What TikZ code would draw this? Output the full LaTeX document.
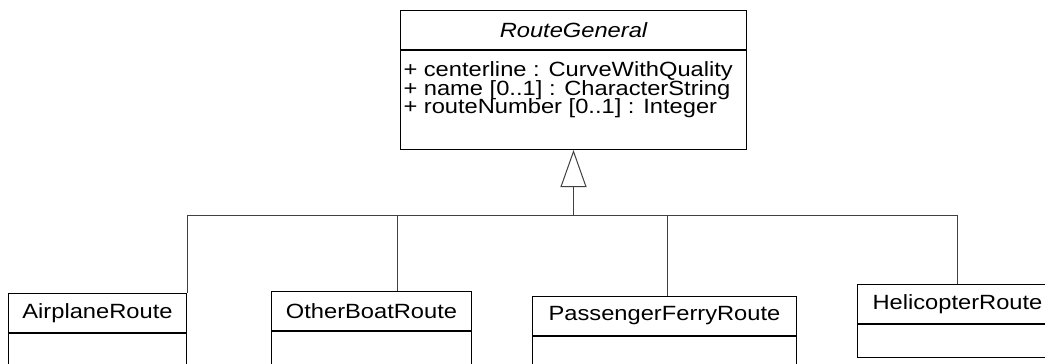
\documentclass[tikz,border=0pt]{standalone}
\usepackage{fontspec}
\setmainfont{Liberation Sans}
\newfontfamily\umlfont[FakeStretch=1.15]{Liberation Sans}
\usetikzlibrary{positioning,calc,arrows.meta}

\begin{document}
\begin{tikzpicture}[
    x=0.5pt, y=-0.5pt,
    line width=0.5pt,
    classname/.style={
        rectangle, draw, inner sep=0pt,
        minimum height=19.5pt,
        font=\umlfont\fontsize{10.3}{12}\selectfont
    },
    classbody/.style={
        rectangle, draw, inner sep=0pt
    },
    attr/.style={
        inner sep=0pt, anchor=base west,
        font=\umlfont\fontsize{10.3}{12}\selectfont
    },
    tree/.style={draw=black!75},
    generalization/.style={-{Triangle[open, length=18.5pt, width=13pt]}, draw=black!75}
]
\useasboundingbox (0,0) rectangle (1045,364);

% Superclass
\node[classname, minimum width=173pt, anchor=north west, font=\umlfont\fontsize{10.3}{12}\selectfont\itshape] (general) at (400,10) {RouteGeneral};
\node[classbody, minimum width=173pt, minimum height=49.5pt, below=0pt of general] (generalbody) {};
\node[attr] (centerline) at ($(generalbody.north west)+(3,26.5)$) {+ centerline : CurveWithQuality};
\node[attr] (name) at ($(centerline.base west)+(0,18.5)$) {+ name [0..1] : CharacterString};
\node[attr] (number) at ($(name.base west)+(0,18.5)$) {+ routeNumber [0..1] : Integer};

% Subclasses
\node[classname, minimum width=89pt, anchor=north west] (airplane) at (8,293) {AirplaneRoute};
\node[classbody, minimum width=89pt, minimum height=16.5pt, below=0pt of airplane] (airplanebody) {};

\node[classname, minimum width=100pt, anchor=north west] (otherboat) at (271,291) {OtherBoatRoute};
\node[classbody, minimum width=100pt, minimum height=16.5pt, below=0pt of otherboat] (otherboatbody) {};

\node[classname, minimum width=132pt, anchor=north west] (ferry) at (532,296) {PassengerFerryRoute};
\node[classbody, minimum width=132pt, minimum height=16.5pt, below=0pt of ferry] (ferrybody) {};

\node[classname, minimum width=100pt, anchor=north west] (helicopter) at (857,284) {HelicopterRoute};
\node[classbody, minimum width=100pt, minimum height=16.5pt, below=0pt of helicopter] (helicopterbody) {};

% Generalization tree
\coordinate (joint) at ($(generalbody.south)+(0,65)$);
\coordinate (boatin) at ($(otherboat.north west)+(126,0)$);
\coordinate (ferryin) at ($(ferry.north west)+(135,0)$);

\draw[tree] (airplane.north east) |- (joint);
\draw[tree] (helicopter.north) |- (joint);
\draw[tree] (boatin) -- (boatin |- joint);
\draw[tree] (ferryin) -- (ferryin |- joint);
\draw[generalization] (joint) -- (generalbody.south);

\end{tikzpicture}
\end{document}
